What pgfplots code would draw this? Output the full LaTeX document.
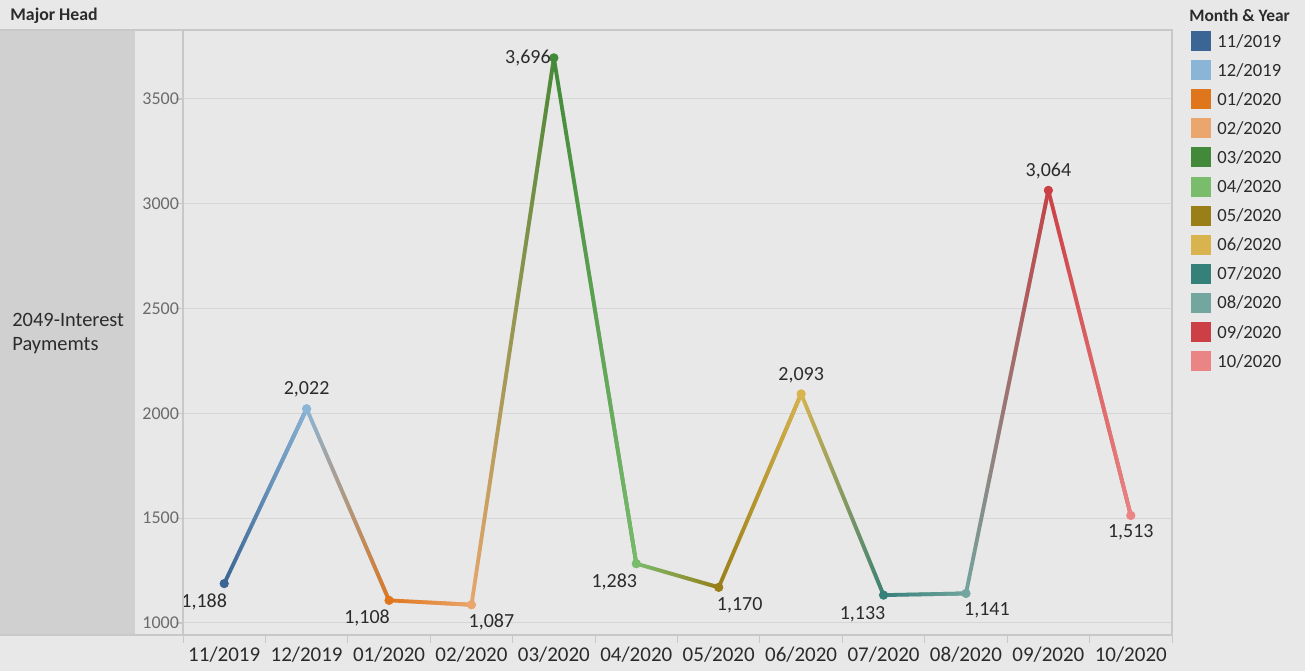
\documentclass[border=0pt]{standalone}
\usepackage{pgfplots}
\usepackage{pgfplotstable}
\pgfplotsset{compat=1.18}
\usetikzlibrary{fadings}
\usepackage{fontspec}
\setmainfont{Carlito}
\definecolor{bg}{HTML}{E8E8E8}
\definecolor{panel}{HTML}{D0D0D0}
\definecolor{framegray}{HTML}{C8C8C8}
\definecolor{gridgray}{HTML}{D6D6D6}
\definecolor{txt}{HTML}{2B2B2B}
\definecolor{ticktxt}{HTML}{6B6B6B}
\definecolor{c0}{HTML}{3B6594}
\definecolor{c1}{HTML}{8AB5D7}
\definecolor{c2}{HTML}{E0761C}
\definecolor{c3}{HTML}{EBA66D}
\definecolor{c4}{HTML}{428A39}
\definecolor{c5}{HTML}{78BC6C}
\definecolor{c6}{HTML}{9A7E17}
\definecolor{c7}{HTML}{D9B44E}
\definecolor{c8}{HTML}{35817A}
\definecolor{c9}{HTML}{72A69F}
\definecolor{c10}{HTML}{CC3F44}
\definecolor{c11}{HTML}{EB8585}
\pgfplotstableread{
x y c dx dy
0 1188 0 -10 -9
1 2022 1 0 9.5
2 1108 2 -11 -9
3 1087 3 10 -8.5
4 3696 4 -13 0
5 1283 5 -11 -9
6 1170 6 10.5 -9
7 2093 7 0 9.5
8 1133 8 -10.5 -9.5
9 1141 9 10.5 -8.5
10 3064 10 0 9.5
11 1513 11 0 -8.5
}\datatable
% segment: start colour, end colour, x1, y1, x2, y2
\newcommand\seg[6]{%
  \addplot[#1, line width=1.9pt, line cap=round] coordinates {(#3,#4) (#5,#6)};
  \addplot[#2, line width=1.9pt, path fading=west] coordinates {(#3,#4) (#5,#6)};
}
\begin{document}
\begin{tikzpicture}
\path[use as bounding box, fill=bg] (0,0) rectangle (652.5pt,335.5pt);
\begin{scope}[x=0.5pt,y=-0.5pt,yshift=335.5pt]
\fill[panel] (0,30) rectangle (135,635);
\draw[framegray, line width=0.6pt] (0,30) -- (1172,30);
\draw[framegray, line width=0.6pt] (0,635) -- (1172,635);
\node[anchor=west, inner sep=0pt, font=\fontsize{8.9}{11}\selectfont\bfseries, text=txt] at (10,16) {Major Head};
\node[anchor=west, inner sep=0pt, font=\fontsize{10.2}{12}\selectfont, text=txt] at (12,320) {2049-Interest};
\node[anchor=west, inner sep=0pt, font=\fontsize{10.2}{12}\selectfont, text=txt] at (12,346) {Paymemts};
\node[anchor=west, inner sep=0pt, font=\fontsize{8.7}{11}\selectfont\bfseries, text=txt] at (1189,15) {Month \& Year};
\foreach \i/\lab in {0/11\slash 2019,1/12\slash 2019,2/01\slash 2020,3/02\slash 2020,4/03\slash 2020,5/04\slash 2020,6/05\slash 2020,7/06\slash 2020,8/07\slash 2020,9/08\slash 2020,10/09\slash 2020,11/10\slash 2020}{
  \pgfmathsetmacro{\yy}{41+29.1*\i}
  \fill[c\i] (1191,\yy-10) rectangle (1211,\yy+10);
  \node[anchor=west, inner sep=0pt, font=\fontsize{9.3}{11}\selectfont, text=txt] at (1217,\yy) {\lab};
}
\end{scope}
\begin{axis}[
  at={(91.5pt,18pt)}, anchor=south west,
  scale only axis, width=494.5pt, height=302.5pt,
  xmin=-0.5, xmax=11.5, ymin=942.7, ymax=3829,
  xtick={0,...,11},
  xticklabels={11/2019,12/2019,01/2020,02/2020,03/2020,04/2020,05/2020,06/2020,07/2020,08/2020,09/2020,10/2020},
  minor xtick={-0.5,0.5,...,11.5},
  ytick={1000,1500,2000,2500,3000,3500},
  xtick pos=bottom, ytick pos=left,
  tick align=outside,
  major tick length=3.5pt, minor tick length=4pt,
  major x tick style={draw=none},
  minor x tick style={draw=framegray, line width=0.5pt},
  major y tick style={draw=framegray, line width=0.6pt},
  ymajorgrids, grid style={draw=gridgray, line width=0.5pt},
  axis line style={draw=framegray, line width=0.6pt},
  /pgf/number format/assume math mode=true,
  /pgf/number format/set thousands separator={},
  xticklabel style={font=\fontsize{10.5}{12}\selectfont, text=txt, yshift=1pt},
  yticklabel style={font=\fontsize{9}{11}\selectfont, text=ticktxt, xshift=5pt},
  axis background/.style={fill=bg},
  colormap={tab}{HTML=(3B6594) HTML=(8AB5D7) HTML=(E0761C) HTML=(EBA66D) HTML=(428A39) HTML=(78BC6C) HTML=(9A7E17) HTML=(D9B44E) HTML=(35817A) HTML=(72A69F) HTML=(CC3F44) HTML=(EB8585)},
  point meta min=0, point meta max=11,
  clip=false,
]
\seg{c0}{c1}{0}{1188}{1}{2022}
\seg{c1}{c2}{1}{2022}{2}{1108}
\seg{c2}{c3}{2}{1108}{3}{1087}
\seg{c3}{c4}{3}{1087}{4}{3696}
\seg{c4}{c5}{4}{3696}{5}{1283}
\seg{c5}{c6}{5}{1283}{6}{1170}
\seg{c6}{c7}{6}{1170}{7}{2093}
\seg{c7}{c8}{7}{2093}{8}{1133}
\seg{c8}{c9}{8}{1133}{9}{1141}
\seg{c9}{c10}{9}{1141}{10}{3064}
\seg{c10}{c11}{10}{3064}{11}{1513}
\addplot[scatter, only marks, mark=*, mark size=2.1pt, point meta=explicit,
  scatter/use mapped color={draw=mapped color, fill=mapped color}]
  table[x=x,y=y,meta=c] {\datatable};
\addplot[draw=none, mark=none, point meta=y,
  visualization depends on={\thisrow{dx} \as \dx},
  visualization depends on={\thisrow{dy} \as \dy},
  nodes near coords={\pgfmathprintnumber[fixed,precision=0,1000 sep={,}]{\pgfplotspointmeta}},
  every node near coord/.style={anchor=center, xshift=\dx*1pt, yshift=\dy*1pt, font=\fontsize{10}{12}\selectfont, text=txt, inner sep=0pt}]
  table[x=x,y=y] {\datatable};
\end{axis}
\draw[framegray, line width=0.9pt] (91.5pt,18pt) -- (91.5pt,320.5pt);
\end{tikzpicture}
\end{document}
